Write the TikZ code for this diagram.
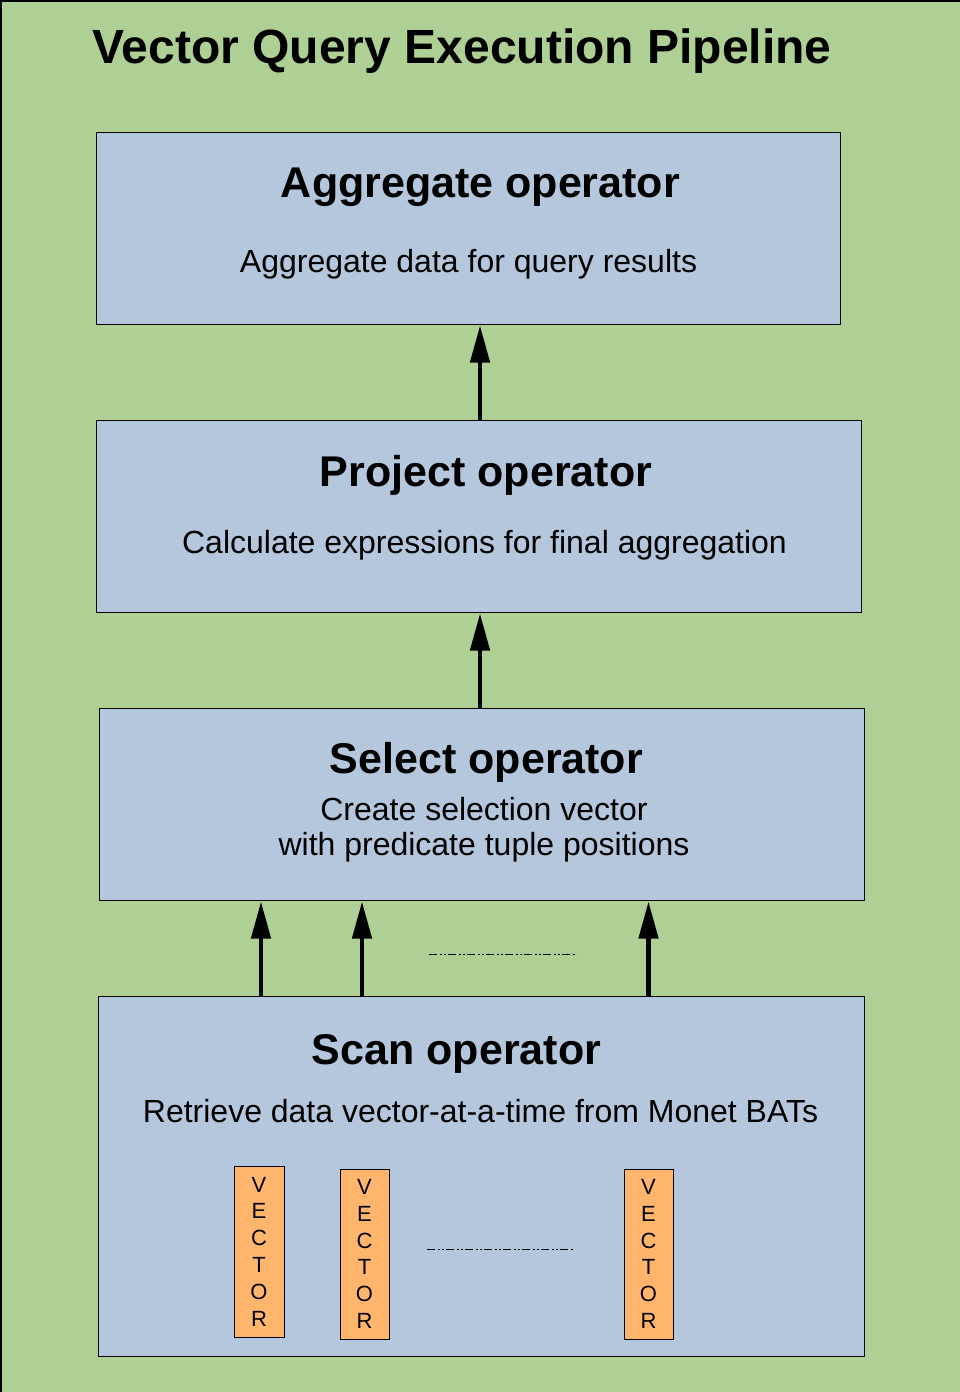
\documentclass[tikz,border=0pt]{standalone}
\usepackage{fontspec}
\setmainfont{Liberation Sans}
\usetikzlibrary{positioning,calc,arrows.meta}
\definecolor{bggreen}{HTML}{AFD095}
\definecolor{opblue}{HTML}{B4C7DC}
\definecolor{vecorange}{HTML}{FFB66C}
\tikzset{
  opbox/.style   = {draw, fill=opblue, line width=1pt, inner sep=0pt},
  vecbox/.style  = {draw, fill=vecorange, line width=1pt, inner sep=0pt,
                    minimum width=49pt, minimum height=170pt, align=center,
                    font=\fontsize{22}{26.8}\selectfont},
  maintitle/.style = {anchor=base, inner sep=0pt,
                    font=\fontsize{48}{56}\selectfont\bfseries},
  optitle/.style = {anchor=base, inner sep=0pt,
                    font=\fontsize{43}{50}\selectfont\bfseries},
  opdesc/.style  = {anchor=base, inner sep=0pt, align=center,
                    font=\fontsize{32}{35}\selectfont},
  uparrow/.style = {line width=4.5pt, shorten >=1pt,
                    -{Triangle[length=37pt,width=19pt]}},
  dotdash/.style = {line width=1pt,
                    dash pattern=on 8pt off 2.5pt on 2pt off 2.5pt on 2pt off 2pt},
}
\begin{document}
\begin{tikzpicture}[x=1pt,y=-1pt]
  \useasboundingbox (0,0) rectangle (960,1392);
  \draw[fill=bggreen, line width=1.5pt] (0.75,0.75) rectangle (970,1400);
  \node[maintitle] (title) at (462,63) {Vector Query Execution Pipeline};
  % operator boxes, top to bottom
  \node[opbox, minimum width=744pt, minimum height=192pt] (agg) at (468,228) {};
  \node[optitle] (aggT) at (480.5,197) {Aggregate operator};
  \node[opdesc] (aggD) at (468.5,272) {Aggregate data for query results};
  \node[opbox, minimum width=765pt, minimum height=192pt] (proj) at (478.5,516) {};
  \node[optitle] (projT) at (486,486) {Project operator};
  \node[opdesc] (projD) at (484.5,553) {Calculate expressions for final aggregation};
  \node[opbox, minimum width=765pt, minimum height=192pt] (sel) at (481.5,804) {};
  \node[optitle] (selT) at (486.5,773) {Select operator};
  \node[opdesc] (selD) at (484,855) {Create selection vector\\with predicate tuple positions};
  \node[opbox, minimum width=766pt, minimum height=360pt] (scan) at (481,1176) {};
  \node[optitle] (scanT) at (456.5,1064) {Scan operator};
  \node[opdesc] (scanD) at (480.5,1122) {Retrieve data vector-at-a-time from Monet BATs};
  % vectors
  \node[vecbox, minimum width=50pt, minimum height=171pt] (v1) at (259,1251.5) {V\\E\\C\\T\\O\\R};
  \node[vecbox] (v2) at (364.5,1254) {V\\E\\C\\T\\O\\R};
  \node[vecbox] (v3) at (648.5,1254) {V\\E\\C\\T\\O\\R};
  \coordinate (vgapL) at (427,1249);
  \coordinate (vgapR) at (575,1249);
  \draw[dotdash] (vgapL) -- (vgapR);
  % flow upwards
  \draw[uparrow] ([xshift=1.5pt]proj.north) -- ([xshift=1.5pt]proj.north |- agg.south);
  \draw[uparrow] ([xshift=-1.5pt]sel.north) -- ([xshift=-1.5pt]sel.north |- proj.south);
  \draw[uparrow] ([xshift=2pt]v1.north |- scan.north) -- ([xshift=2pt]v1.north |- sel.south);
  \draw[uparrow] ([xshift=-2.5pt]v2.north |- scan.north) -- ([xshift=-2.5pt]v2.north |- sel.south);
  \draw[uparrow] (v3.north |- scan.north) -- (v3.north |- sel.south);
  \coordinate (agapL) at (429,954);
  \coordinate (agapR) at (577,954);
  \draw[dotdash] (agapL) -- (agapR);
\end{tikzpicture}
\end{document}
